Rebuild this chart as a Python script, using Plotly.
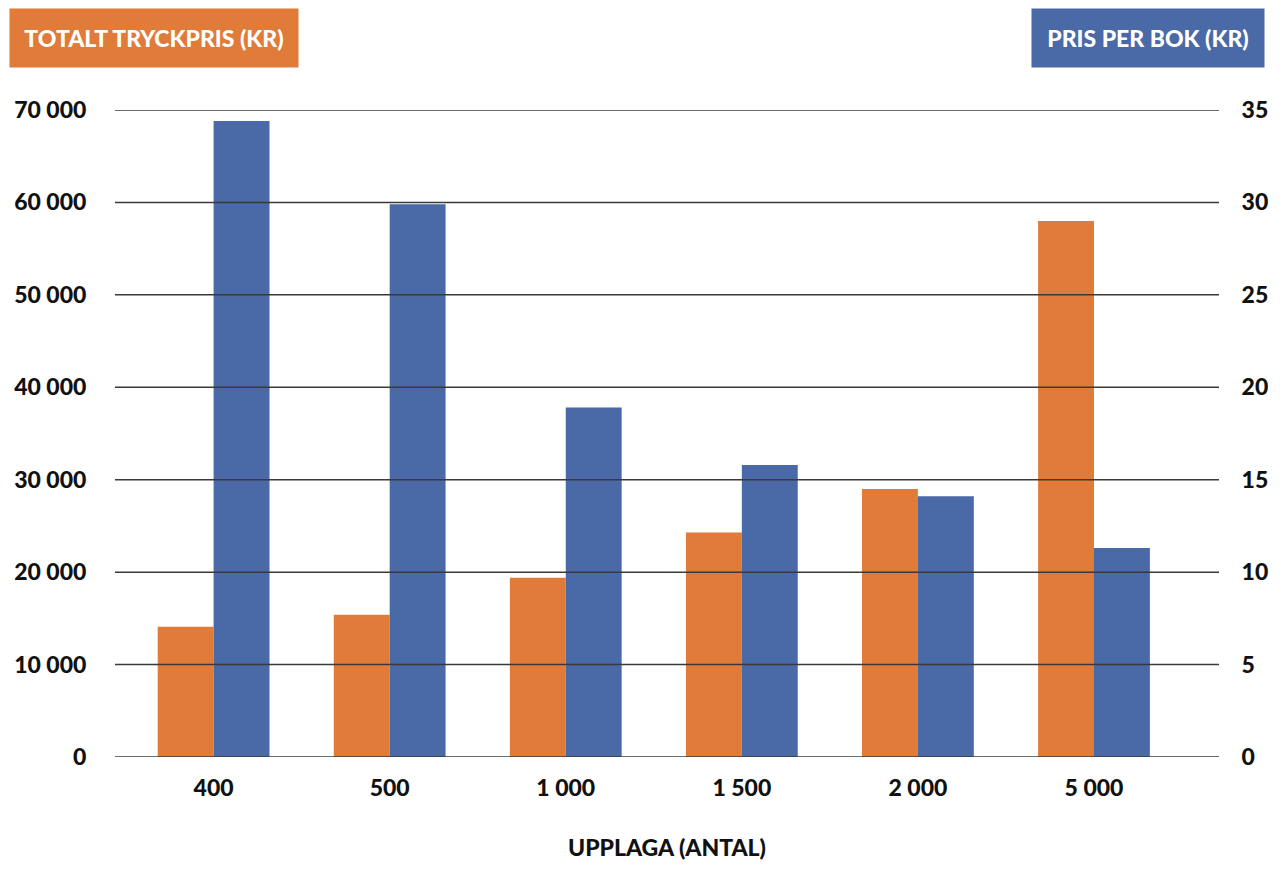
import plotly.graph_objects as go

categories = ["400", "500", "1 000", "1 500", "2 000", "5 000"]
total_price = [14100, 15400, 19400, 24300, 29000, 58000]
price_per_book = [34.4, 29.9, 18.9, 15.8, 14.1, 11.3]

left_ticks = [0, 10000, 20000, 30000, 40000, 50000, 60000, 70000]
left_ticktext = ["0", "10 000", "20 000", "30 000", "40 000", "50 000", "60 000", "70 000"]
right_ticks = [0, 5, 10, 15, 20, 25, 30, 35]

ORANGE = "#E07B39"
BLUE = "#4A69A7"
FONT = "Lato"

W, H = 1280, 871
ML, MR, MT, MB = 115, 58, 110, 114
pw = W - ML - MR
ph = H - MT - MB

fig = go.Figure()
fig.add_trace(go.Bar(x=categories, y=total_price, marker_color=ORANGE, offsetgroup="a",
                     yaxis="y", name="Totalt tryckpris", marker_line_width=0))
fig.add_trace(go.Bar(x=categories, y=price_per_book, marker_color=BLUE, offsetgroup="b",
                     yaxis="y2", name="Pris per bok", marker_line_width=0))

# gridlines drawn above the bars
for v in left_ticks:
    fig.add_shape(type="line", xref="paper", yref="y", x0=0, x1=1, y0=v, y1=v,
                  line=dict(color="#3a3a3a", width=1.5), layer="above")

tickfont = dict(family=FONT, size=23, color="#111111", weight=900)

fig.update_layout(
    width=W, height=H,
    margin=dict(l=ML, r=MR, t=MT, b=MB),
    paper_bgcolor="white", plot_bgcolor="white",
    barmode="group", bargap=0.365, bargroupgap=0,
    showlegend=False,
    xaxis=dict(range=[-0.56, 5.71], showgrid=False, zeroline=False, showline=False,
               tickfont=tickfont, ticks="outside", ticklen=10, tickcolor="rgba(0,0,0,0)",
               title=dict(text="UPPLAGA (ANTAL)", font=dict(family=FONT, size=23, color="#111111", weight=900),
                          standoff=40)),
    yaxis=dict(range=[0, 70000], tickvals=left_ticks, ticktext=left_ticktext, showgrid=False,
               zeroline=False, showline=False, tickfont=tickfont, ticks="outside", ticklen=23,
               tickcolor="rgba(0,0,0,0)"),
    yaxis2=dict(range=[0, 35], tickvals=right_ticks, overlaying="y", side="right", showgrid=False,
                zeroline=False, showline=False, tickfont=tickfont, ticks="outside", ticklen=17,
                tickcolor="rgba(0,0,0,0)"),
)

fig.add_annotation(text="TOTALT TRYCKPRIS (KR)", xref="paper", yref="paper",
                   x=(9 - ML) / pw, y=(H - MB - 8) / ph, xanchor="left", yanchor="top",
                   showarrow=False, bgcolor=ORANGE, width=288, height=58, borderpad=0,
                   font=dict(family=FONT, size=23, color="white", weight=900))
fig.add_annotation(text="PRIS PER BOK (KR)", xref="paper", yref="paper",
                   x=(1268 - ML) / pw, y=(H - MB - 8) / ph, xanchor="right", yanchor="top",
                   showarrow=False, bgcolor=BLUE, width=232, height=58, borderpad=0,
                   font=dict(family=FONT, size=23, color="white", weight=900))

fig.write_html("out.html")
